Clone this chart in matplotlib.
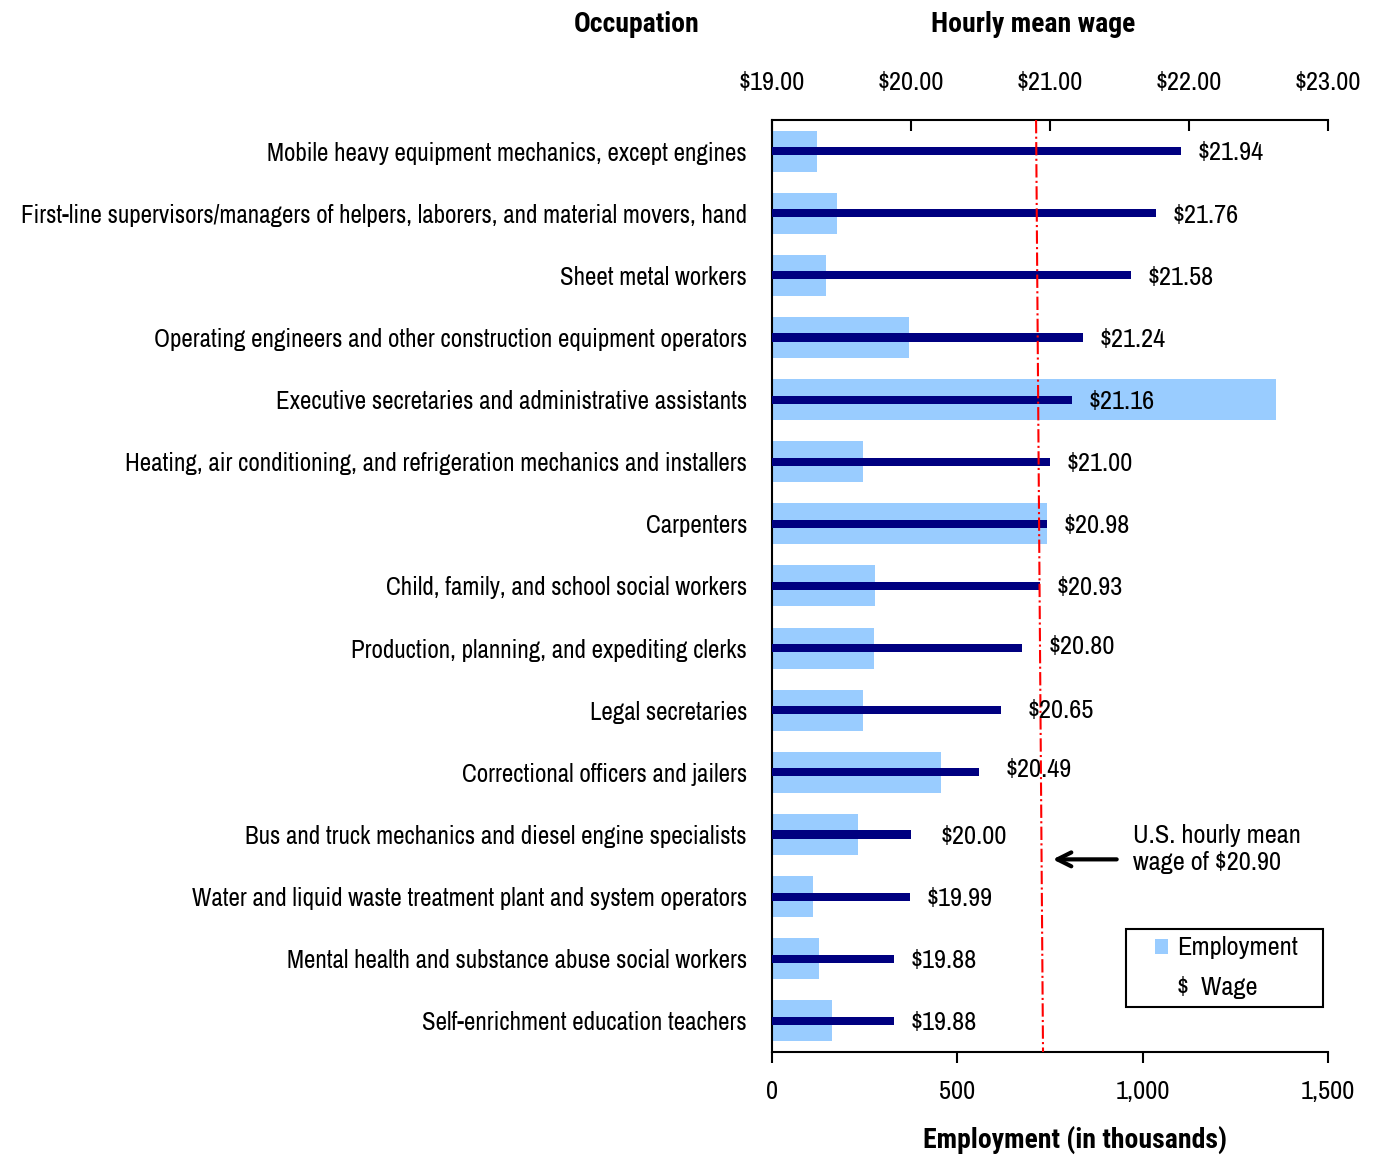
import matplotlib
matplotlib.use("Agg")
import matplotlib.pyplot as plt
from matplotlib.patches import Patch, Rectangle
from matplotlib.lines import Line2D
from matplotlib.ticker import FuncFormatter

plt.rcParams['font.family'] = ['Archivo Narrow', 'Roboto Condensed', 'DejaVu Sans']
title_font = ['Roboto Condensed', 'DejaVu Sans']

occupations = [
    "Mobile heavy equipment mechanics, except engines",
    "First-line supervisors/managers of helpers, laborers, and material movers, hand",
    "Sheet metal workers",
    "Operating engineers and other construction equipment operators",
    "Executive secretaries and administrative assistants",
    "Heating, air conditioning, and refrigeration mechanics and installers",
    "Carpenters",
    "Child, family, and school social workers",
    "Production, planning, and expediting clerks",
    "Legal secretaries",
    "Correctional officers and jailers",
    "Bus and truck mechanics and diesel engine specialists",
    "Water and liquid waste treatment plant and system operators",
    "Mental health and substance abuse social workers",
    "Self-enrichment education teachers",
]
employment = [121, 175, 146, 370, 1360, 245, 742, 278, 275, 245, 456, 232, 111, 127, 162]
wages = [21.94, 21.76, 21.58, 21.24, 21.16, 21.00, 20.98, 20.93, 20.80, 20.65, 20.49, 20.00, 19.99, 19.88, 19.88]
us_mean_wage = 20.90

emp_ticks = [0, 500, 1000, 1500]
wage_ticks = [19, 20, 21, 22, 23]

# labels pushed right/up so they clear the red line
label_nudge = {8: (0.07, -0.05), 9: (0.07, -0.03), 10: (0.07, -0.08), 11: (0.09, 0.0)}

fs = 19

fig = plt.figure(figsize=(13.79, 11.55), dpi=100)
ax = fig.add_axes([0.5598, 0.0892, 0.4032, 0.8069])
ypos = list(range(len(occupations)))

ax.barh(ypos, employment, height=0.66, color='#99CCFF', zorder=1)
ax.set_xlim(0, 1500)
ax.set_ylim(len(occupations) - 0.5, -0.5)
ax.set_xticks(emp_ticks)
ax.xaxis.set_major_formatter(FuncFormatter(lambda v, p: f"{v:,.0f}"))
ax.set_yticks(ypos)
ax.set_yticklabels(occupations)
ax.tick_params(axis='y', length=0, pad=18, labelsize=18)
ax.tick_params(axis='x', direction='out', length=8, width=1.5, pad=12, labelsize=fs)
for s in ['top', 'right']:
    ax.spines[s].set_visible(False)
ax.spines['left'].set_linewidth(1.5)
ax.spines['bottom'].set_linewidth(1.5)

ax2 = ax.twiny()
ax2.barh(ypos, [w - wage_ticks[0] for w in wages], left=wage_ticks[0], height=0.13,
         color='#000080', zorder=3)
ax2.set_xlim(wage_ticks[0], wage_ticks[-1])
ax2.set_xticks(wage_ticks)
ax2.xaxis.set_major_formatter(FuncFormatter(lambda v, p: f"${v:.2f}"))
ax2.tick_params(axis='x', direction='in', length=8, width=1.5, pad=19, labelsize=fs)
for s in ['bottom', 'left', 'right']:
    ax2.spines[s].set_visible(False)
ax2.spines['top'].set_linewidth(1.5)

for i, w in enumerate(wages):
    dx, dy = label_nudge.get(i, (0.0, 0.0))
    ax2.text(w + 0.12 + dx, i + dy + 0.03, f"${w:.2f}", va='center', ha='left', fontsize=fs, zorder=5)

# U.S. mean wage reference line (drawn slightly slanted like the original)
ax2.plot([us_mean_wage, us_mean_wage + 0.05], [-0.5, len(occupations) - 0.5],
         color='red', linestyle='-.', linewidth=1.5, zorder=4)

ax2.annotate("", xy=(21.0, 11.4), xytext=(21.5, 11.4),
             arrowprops=dict(arrowstyle='->', color='black', lw=3, mutation_scale=25))
ax2.text(21.6, 11.23, "U.S. hourly mean\nwage of \\$20.90", va='center', ha='left',
         fontsize=fs, linespacing=1.2)

# legend with a hand-placed frame (wider side padding than matplotlib's)
ax2.add_patch(Rectangle((0.8165, 0.1281), 0.1429, 0.0675, transform=fig.transFigure,
                        facecolor='white', edgecolor='black', linewidth=1.5,
                        zorder=8, clip_on=False))
handles = [Patch(facecolor='#99CCFF', edgecolor='none'),
           Line2D([], [], linestyle='none')]
leg = ax2.legend(handles, ["Employment", "\\$  Wage"], loc='center left',
                 bbox_to_anchor=(0.689, 0.0905), frameon=False,
                 fontsize=fs, handlelength=0.5, handleheight=0.5, handletextpad=0.35,
                 borderpad=0, borderaxespad=0, labelspacing=0.62)
leg.set_zorder(10)

fig.text(0.462, 0.979, "Occupation", ha='center', va='center', fontsize=20,
         fontweight='bold', family=title_font)
fig.text(0.749, 0.979, "Hourly mean wage", ha='center', va='center', fontsize=20,
         fontweight='bold', family=title_font)
fig.text(0.7795, 0.013, "Employment (in thousands)", ha='center', va='center', fontsize=20,
         fontweight='bold', family=title_font)

fig.savefig("out.png", dpi=100)
